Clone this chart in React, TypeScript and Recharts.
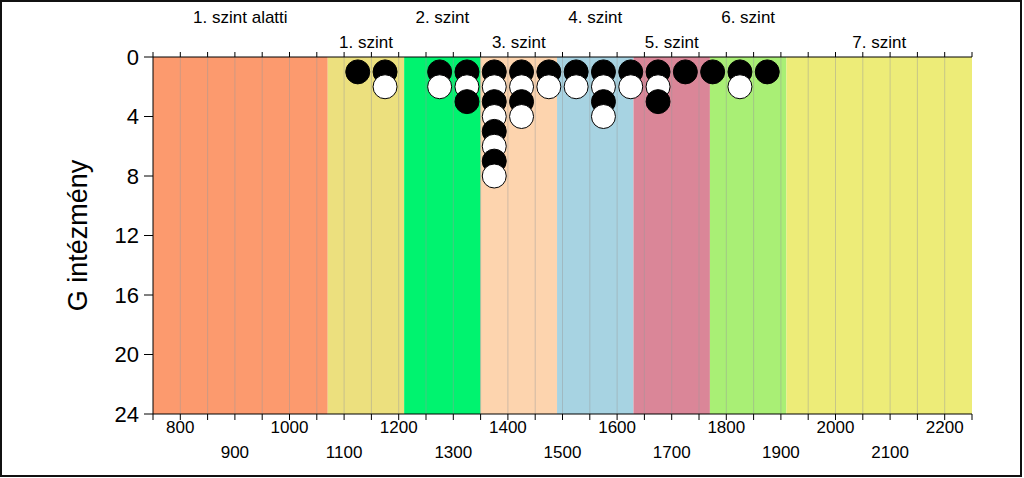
import React from "react";
import {
  ScatterChart,
  Scatter,
  XAxis,
  YAxis,
  ReferenceArea,
  ReferenceLine,
} from "recharts";

// x positions of the point columns and how many institutions sit in each
const columnX = [1125, 1175, 1275, 1325, 1375, 1425, 1475, 1525, 1575, 1625, 1675, 1725, 1775, 1825, 1875];
const columnCount = [1, 2, 2, 3, 8, 4, 2, 2, 4, 2, 3, 1, 1, 2, 1];

// level bands
const bandNames = ["1. szint alatti", "1. szint", "2. szint", "3. szint", "4. szint", "5. szint", "6. szint", "7. szint"];
const bandStart = [750, 1070, 1210, 1350, 1490, 1630, 1770, 1910];
const bandEnd = [1070, 1210, 1350, 1490, 1630, 1770, 1910, 2250];
const bandColors = ["#fc9a6e", "#ece07e", "#00f36f", "#fdd4ae", "#a7d3e2", "#da8698", "#a9ef75", "#edec78"];

const xTicks = [
  750, 800, 850, 900, 950, 1000, 1050, 1100, 1150, 1200, 1250, 1300, 1350, 1400, 1450, 1500,
  1550, 1600, 1650, 1700, 1750, 1800, 1850, 1900, 1950, 2000, 2050, 2100, 2150, 2200, 2250,
];
const gridX = [
  800, 850, 900, 950, 1000, 1050, 1100, 1150, 1200, 1250, 1300, 1350, 1400, 1450, 1500,
  1550, 1600, 1650, 1700, 1750, 1800, 1850, 1900, 1950, 2000, 2050, 2100, 2150, 2200,
];
const xLabelsTop = [800, 1000, 1200, 1400, 1600, 1800, 2000, 2200];
const xLabelsBottom = [900, 1100, 1300, 1500, 1700, 1900, 2100];
const yTicks = [0, 4, 8, 12, 16, 20, 24];

const FONT = "'Liberation Sans', Arial, sans-serif";

const points = columnX.flatMap((x, i) =>
  Array.from({ length: columnCount[i] }, (_, k) => ({ x, y: k + 1, filled: k % 2 === 0 }))
);

function Dot(props: any) {
  const { cx, cy, payload } = props;
  if (cx == null || cy == null) return null;
  return (
    <circle
      cx={cx}
      cy={cy}
      r={12}
      fill={payload.filled ? "#000" : "#fff"}
      stroke="#000"
      strokeWidth={1}
    />
  );
}

function BottomTick(props: any) {
  const { x, y, payload } = props;
  const v = payload.value;
  let dy: number | null = null;
  if (xLabelsTop.includes(v)) dy = 13;
  if (xLabelsBottom.includes(v)) dy = 38;
  if (dy == null) return <g />;
  return (
    <text x={x} y={y - 8 + dy} textAnchor="middle" dominantBaseline="central" fontSize={17} fill="#000" fontFamily={FONT}>
      {v}
    </text>
  );
}

function EmptyTick() {
  return <g />;
}

function bandLabel(name: string, row: number) {
  return (p: any) => {
    const vb = p.viewBox;
    if (!vb) return null;
    return (
      <text
        x={vb.x + vb.width / 2}
        y={vb.y - (row === 0 ? 40 : 15)}
        textAnchor="middle"
        dominantBaseline="central"
        fontSize={17}
        fill="#000"
        fontFamily={FONT}
      >
        {name}
      </text>
    );
  };
}

function YLabel(p: any) {
  const vb = p.viewBox;
  const cx = 78;
  const cy = vb ? vb.y + vb.height / 2 : 236;
  return (
    <text
      x={cx}
      y={cy}
      transform={`rotate(-90 ${cx} ${cy})`}
      textAnchor="middle"
      dominantBaseline="central"
      fontSize={27}
      fill="#000"
      fontFamily={FONT}
    >
      G intézmény
    </text>
  );
}

export default function App() {
  return (
    <div style={{ position: "fixed", left: 0, top: 0, width: 1024, height: 478, background: "#fff", fontFamily: FONT }}>
      <ScatterChart width={1024} height={478} margin={{ top: 0, right: 52, bottom: 0, left: 0 }}>
        <XAxis
          xAxisId="top"
          orientation="top"
          type="number"
          dataKey="x"
          domain={[750, 2250]}
          ticks={xTicks}
          height={57}
          tickSize={5}
          tick={<EmptyTick />}
          axisLine={{ stroke: "#000" }}
          tickLine={{ stroke: "#000" }}
          interval={0}
          allowDataOverflow
        />
        <XAxis
          xAxisId="bottom"
          orientation="bottom"
          type="number"
          dataKey="x"
          domain={[750, 2250]}
          ticks={xTicks}
          height={64}
          tickSize={6}
          tickMargin={2}
          tick={<BottomTick />}
          axisLine={{ stroke: "#000" }}
          tickLine={{ stroke: "#000" }}
          interval={0}
          allowDataOverflow
        />
        <YAxis
          type="number"
          dataKey="y"
          domain={[0, 24]}
          ticks={yTicks}
          reversed
          width={153}
          tickSize={9}
          tickMargin={5}
          interval={0}
          axisLine={{ stroke: "#000" }}
          tickLine={{ stroke: "#000" }}
          tick={{ fontSize: 22, fill: "#000", fontFamily: FONT }}
          label={<YLabel />}
        />
        {bandNames.map((name, i) => (
          <ReferenceArea
            key={name}
            xAxisId="bottom"
            x1={bandStart[i]}
            x2={bandEnd[i]}
            y1={0}
            y2={24}
            fill={bandColors[i]}
            fillOpacity={1}
            stroke="none"
            label={bandLabel(name, i % 2)}
          />
        ))}
        {gridX.map((v) => (
          <ReferenceLine key={v} xAxisId="bottom" x={v} stroke="#9a9a9a" strokeOpacity={0.45} strokeWidth={1} />
        ))}
        <Scatter xAxisId="bottom" data={points} shape={<Dot />} isAnimationActive={false} />
      </ScatterChart>
      <div
        style={{
          position: "absolute",
          left: 0,
          top: 0,
          width: 1022,
          height: 477,
          border: "2px solid #111",
          boxSizing: "border-box",
          pointerEvents: "none",
        }}
      />
    </div>
  );
}
